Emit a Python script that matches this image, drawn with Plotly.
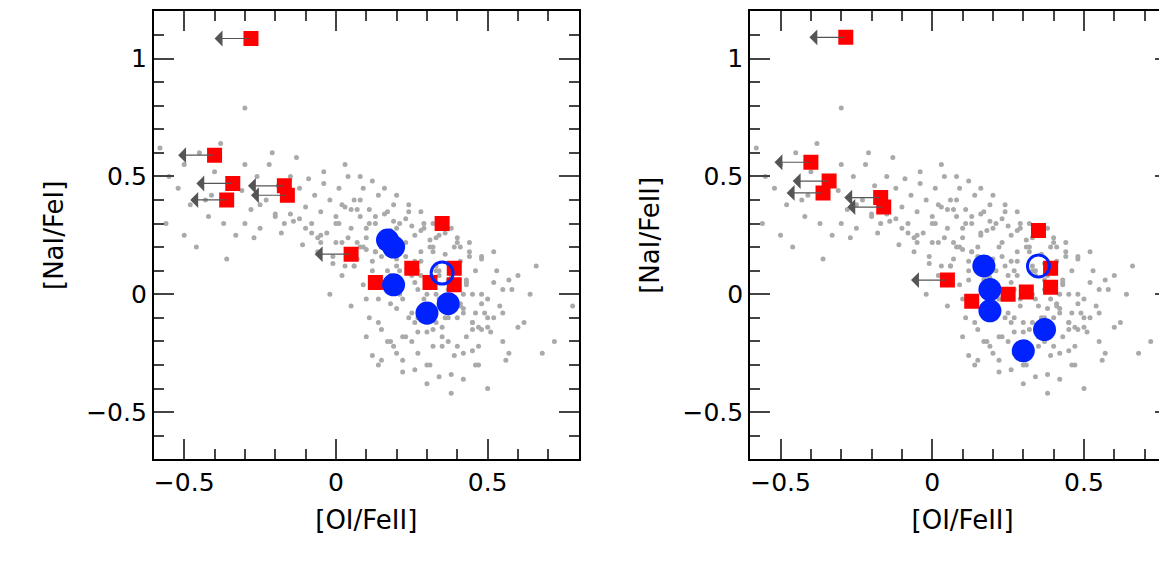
import plotly.graph_objects as go

# field stars (approximate reading of the grey cloud)
field_x = [-0.58, -0.55, -0.52, -0.5, -0.48, -0.45, -0.43, -0.42, -0.4, -0.38, -0.37, -0.35, -0.33, -0.31, -0.3,
           -0.28, -0.26, -0.25, -0.23, -0.22, -0.2, -0.19, -0.18, -0.16, -0.15, -0.14, -0.12, -0.11, -0.1, -0.09,
           -0.08, -0.07, -0.06, -0.05, -0.04, -0.03, -0.02, -0.01, 0.0, 0.01, 0.02, 0.03, 0.04, 0.05, 0.06,
           0.07, 0.08, 0.09, 0.1, 0.11, 0.12, 0.13, 0.14, 0.15, 0.16, 0.17, 0.18, 0.19, 0.2, 0.21,
           0.22, 0.23, 0.24, 0.25, 0.26, 0.27, 0.28, 0.29, 0.3, 0.31, 0.32, 0.33, 0.34, 0.35, 0.36,
           0.37, 0.38, 0.39, 0.4, 0.41, 0.42, 0.43, 0.44, 0.45, 0.46, 0.47, 0.48, 0.5, 0.52, 0.55,
           0.58, 0.62, 0.66, 0.72, 0.78,
           -0.56, -0.5, -0.46, -0.41, -0.36, -0.3, -0.27, -0.21, -0.17, -0.13, -0.08, -0.04, 0.0, 0.03, 0.06,
           0.08, 0.1, 0.12, 0.14, 0.16, 0.18, 0.2, 0.22, 0.24, 0.26, 0.28, 0.3, 0.32, 0.34, 0.36,
           0.38, 0.4, 0.42, 0.44, 0.46, 0.48, 0.5, 0.53, 0.57, 0.6,
           -0.02, 0.02, 0.05, 0.09, 0.11, 0.13, 0.15, 0.17, 0.19, 0.21, 0.23, 0.25, 0.27, 0.29, 0.31,
           0.33, 0.35, 0.37, 0.39, 0.41, 0.43, 0.45, 0.47, 0.49, 0.51, 0.54, 0.56, 0.6, 0.64, 0.68,
           0.07, 0.12, 0.16, 0.2, 0.24, 0.28, 0.32, 0.36, 0.4, 0.44, 0.48, 0.52, 0.1, 0.18, 0.26,
           0.34, 0.42, 0.5, 0.22, 0.3, 0.38, 0.14, 0.46, 0.26, 0.33, 0.4, 0.19, 0.29, 0.37, 0.45,
           0.01, 0.04, 0.07, 0.1, 0.13, 0.16, 0.19, 0.22, 0.25, 0.28, 0.31, 0.34, 0.37, 0.4, 0.43,
           0.06, 0.09, 0.12, 0.15, 0.18, 0.21, 0.24, 0.27, 0.3, 0.33, 0.36, 0.39, 0.42, 0.45, 0.48,
           -0.05, -0.01, 0.03, 0.08, 0.11, 0.14, 0.17, 0.2, 0.23, 0.26, 0.29, 0.32, 0.35, 0.38, 0.41,
           0.15, 0.2, 0.25, 0.3, 0.35, 0.4, 0.45, 0.5, 0.55, 0.2, 0.27, 0.34, 0.41, 0.48, 0.55,
           -0.15, -0.1, -0.05, 0.0, 0.05, 0.1, -0.2, -0.25, -0.3, -0.12, -0.06, 0.02, 0.08, 0.13, 0.18,
           0.23, 0.28, 0.33, 0.38, 0.43, 0.12, 0.17, 0.22, 0.27, 0.32, 0.37, 0.42, 0.47, 0.52, 0.57]
field_y = [0.62, 0.5, 0.45, 0.55, 0.38, 0.6, 0.4, 0.33, 0.52, 0.64, 0.3, 0.48, 0.25, 0.44, 0.79,
           0.36, 0.5, 0.28, 0.4, 0.55, 0.33, 0.46, 0.26, 0.4, 0.5, 0.31, 0.45, 0.21, 0.37, 0.49,
           0.3, 0.42, 0.18, 0.35, 0.47, 0.26, 0.4, 0.13, 0.33, 0.45, 0.22, 0.37, 0.5, 0.28, 0.4,
           0.15, 0.33, 0.45, 0.24, 0.36, 0.1, 0.3, 0.42, 0.2, 0.34, 0.06, 0.27, 0.38, 0.15, 0.3,
           -0.02, 0.22, 0.35, 0.08, 0.25, -0.1, 0.18, 0.3, 0.0, 0.2, -0.15, 0.12, 0.25, -0.05, 0.17,
           -0.2, 0.08, 0.2, -0.1, 0.14, -0.25, 0.05, 0.16, -0.15, 0.1, -0.3, 0.0, -0.1, 0.05, -0.2,
           0.02, -0.12, 0.12, -0.2, -0.05,
           0.3, 0.25, 0.2, 0.42, 0.15, 0.55, 0.24, 0.6, 0.3, 0.58, 0.26, 0.52, 0.22, 0.55, 0.12,
           0.5, -0.02, 0.48, -0.12, 0.45, -0.2, 0.42, -0.28, 0.38, -0.32, 0.35, -0.38, 0.3, -0.35, 0.26,
           -0.42, 0.22, -0.36, 0.18, -0.3, 0.15, -0.4, 0.1, -0.25, 0.08,
           0.0, 0.08, -0.05, 0.04, -0.1, 0.18, -0.15, 0.1, -0.22, 0.0, -0.18, -0.08, -0.25, -0.02, -0.3,
           -0.12, -0.22, 0.02, -0.26, -0.05, -0.18, 0.0, -0.22, -0.08, -0.16, -0.05, -0.28, -0.14, 0.0, -0.25,
           0.22, 0.14, 0.26, 0.28, 0.12, 0.27, 0.18, 0.28, 0.24, 0.22, 0.16, 0.18, -0.18, 0.03, -0.12,
           -0.02, -0.06, -0.02, -0.33, -0.3, -0.34, -0.3, -0.08, 0.14, 0.24, 0.04, 0.07, -0.05, 0.06, -0.12,
           0.3, 0.24, 0.36, 0.19, 0.33, 0.25, 0.31, 0.2, 0.29, 0.14, 0.23, 0.1, 0.13, 0.02, 0.06,
           0.12, 0.2, 0.06, 0.16, -0.04, 0.1, -0.1, 0.02, -0.12, 0.1, -0.1, -0.02, 0.0, -0.12, -0.04,
           0.25, 0.16, 0.12, 0.2, 0.3, -0.02, 0.35, -0.06, 0.32, 0.05, 0.28, 0.2, -0.14, 0.28, 0.2,
           -0.28, -0.25, -0.2, -0.16, -0.18, -0.22, -0.24, -0.14, -0.08, 0.12, 0.1, 0.08, -0.04, -0.15, 0.02,
           0.34, 0.28, 0.22, 0.3, 0.36, 0.28, 0.34, 0.38, 0.3, 0.32, 0.24, 0.38, 0.4, 0.18, 0.08,
           0.16, 0.08, 0.0, -0.06, 0.04, -0.26, -0.2, -0.18, -0.16, -0.22, -0.1, -0.08, -0.14, -0.1, 0.06]

# left panel: [NaI/FeI] vs [OI/FeII]
red_x1 = [-0.28, -0.40, -0.34, -0.36, -0.17, -0.16, 0.05, 0.35, 0.25, 0.13, 0.31, 0.39, 0.39]
red_y1 = [1.085, 0.59, 0.47, 0.40, 0.46, 0.42, 0.17, 0.30, 0.11, 0.05, 0.05, 0.11, 0.04]
blue_x1 = [0.17, 0.19, 0.19, 0.37, 0.30]
blue_y1 = [0.23, 0.20, 0.04, -0.04, -0.08]
open_x1, open_y1 = [0.35], [0.09]

# right panel: [NaI/FeII] vs [OI/FeII]
red_x2 = [-0.285, -0.40, -0.34, -0.36, -0.17, -0.16, 0.05, 0.35, 0.13, 0.25, 0.31, 0.39, 0.39]
red_y2 = [1.09, 0.56, 0.48, 0.43, 0.41, 0.37, 0.06, 0.27, -0.03, 0.00, 0.01, 0.11, 0.03]
blue_x2 = [0.17, 0.19, 0.19, 0.37, 0.30]
blue_y2 = [0.12, 0.02, -0.07, -0.15, -0.24]
open_x2, open_y2 = [0.35], [0.12]

n_limits = 7  # first seven red points are upper limits in [OI/FeII]

fig = go.Figure()
panels = [
    ("x", "y", red_x1, red_y1, blue_x1, blue_y1, open_x1, open_y1),
    ("x2", "y2", red_x2, red_y2, blue_x2, blue_y2, open_x2, open_y2),
]
for xa, ya, rx, ry, bx, by, ox, oy in panels:
    fig.add_trace(go.Scatter(x=field_x, y=field_y, xaxis=xa, yaxis=ya, mode="markers",
                             marker=dict(color="#aaaaaa", size=5), hoverinfo="skip"))
    for i in range(n_limits):
        fig.add_annotation(x=rx[i] - 0.12, y=ry[i], ax=rx[i], ay=ry[i],
                           xref=xa, yref=ya, axref=xa, ayref=ya,
                           showarrow=True, arrowhead=1, arrowsize=2.2, arrowwidth=1.2,
                           arrowcolor="#555555", text="")
    fig.add_trace(go.Scatter(x=rx, y=ry, xaxis=xa, yaxis=ya, mode="markers",
                             marker=dict(color="#ff0000", size=15, symbol="square")))
    fig.add_trace(go.Scatter(x=bx, y=by, xaxis=xa, yaxis=ya, mode="markers",
                             marker=dict(color="#0022ff", size=23)))
    fig.add_trace(go.Scatter(x=ox, y=oy, xaxis=xa, yaxis=ya, mode="markers",
                             marker=dict(color="rgba(0,0,0,0)", size=22,
                                         line=dict(color="#0022ff", width=3))))

axis_common = dict(showgrid=False, zeroline=False, showline=True, linecolor="black", linewidth=2,
                   mirror="allticks", ticks="inside", ticklen=20, tickwidth=2,
                   tickfont=dict(size=25, family="DejaVu Sans"),
                   minor=dict(ticks="inside", ticklen=10, tickwidth=2, dtick=0.1))
fig.update_layout(
    width=1167, height=562, showlegend=False,
    plot_bgcolor="white", paper_bgcolor="white",
    margin=dict(l=0, r=0, t=0, b=0, autoexpand=False),
    font=dict(family="DejaVu Sans", color="black"),
    xaxis=dict(axis_common, domain=[0.125, 0.489], range=[-0.6, 0.8], dtick=0.5, anchor="y",
               title=dict(text="[OI/FeII]", font=dict(size=26))),
    yaxis=dict(axis_common, domain=[0.197, 0.994], range=[-0.7, 1.2], dtick=0.5, anchor="x",
               title=dict(text="[NaI/FeI]", font=dict(size=26))),
    xaxis2=dict(axis_common, domain=[0.636, 1.0], range=[-0.6, 0.8], dtick=0.5, anchor="y2",
                title=dict(text="[OI/FeII]", font=dict(size=26))),
    yaxis2=dict(axis_common, domain=[0.197, 0.994], range=[-0.7, 1.2], dtick=0.5, anchor="x2",
                title=dict(text="[NaI/FeII]", font=dict(size=26))),
)

fig.write_html("out.html")
